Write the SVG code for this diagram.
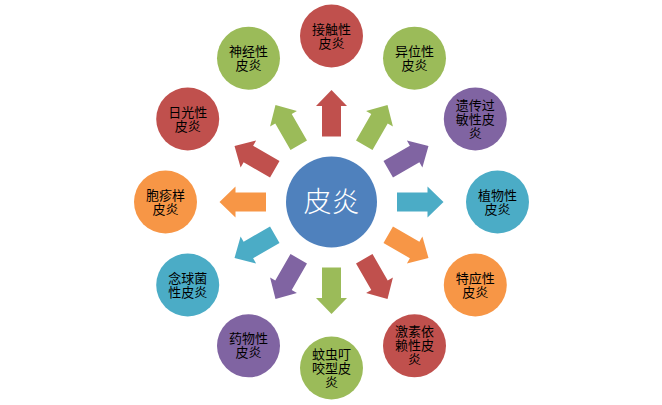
<svg xmlns="http://www.w3.org/2000/svg" xmlns:xlink="http://www.w3.org/1999/xlink" width="662" height="405" viewBox="0 0 662 405">
<style>
.t{font-family:"Liberation Sans","Noto Sans CJK SC",sans-serif;font-size:13px;fill:#000;text-anchor:middle}
.c{font-family:"Noto Sans CJK SC","Liberation Sans",sans-serif;font-size:28px;fill:#fff;text-anchor:middle;font-weight:300}
.red{fill:#C0504D}.green{fill:#9BBB59}.purple{fill:#8064A2}.aqua{fill:#4BACC6}.orange{fill:#F79646}.blue{fill:#4F81BD}
</style>
<defs>
<path id="arr" d="M-9.5,-65.5 L-9.5,-96 L-15.5,-96 L0,-112 L15.5,-96 L9.5,-96 L9.5,-65.5 Z"/>
</defs>
<rect width="662" height="405" fill="#fff"/>
<g id="connectors">
<use xlink:href="#arr" class="red" transform="translate(331.5,202) rotate(0)"/>
<use xlink:href="#arr" class="green" transform="translate(331.5,202) rotate(30)"/>
<use xlink:href="#arr" class="purple" transform="translate(331.5,202) rotate(60)"/>
<use xlink:href="#arr" class="aqua" transform="translate(331.5,202) rotate(90)"/>
<use xlink:href="#arr" class="orange" transform="translate(331.5,202) rotate(120)"/>
<use xlink:href="#arr" class="red" transform="translate(331.5,202) rotate(150)"/>
<use xlink:href="#arr" class="green" transform="translate(331.5,202) rotate(180)"/>
<use xlink:href="#arr" class="purple" transform="translate(331.5,202) rotate(210)"/>
<use xlink:href="#arr" class="aqua" transform="translate(331.5,202) rotate(240)"/>
<use xlink:href="#arr" class="orange" transform="translate(331.5,202) rotate(270)"/>
<use xlink:href="#arr" class="red" transform="translate(331.5,202) rotate(300)"/>
<use xlink:href="#arr" class="green" transform="translate(331.5,202) rotate(330)"/>
</g>
<g id="center">
<circle cx="331.5" cy="202" r="45.5" class="blue"/>
<text x="331.5" y="212" class="c">皮炎</text>
</g>
<g id="n0"><circle cx="331.5" cy="36" r="31.5" class="red"/><text class="t"><tspan x="331.5" y="33.5">接触性</tspan><tspan x="331.5" y="47.5">皮炎</tspan></text></g>
<g id="n1"><circle cx="414.5" cy="58.2" r="31.5" class="green"/><text class="t"><tspan x="414.5" y="55.7">异位性</tspan><tspan x="414.5" y="69.7">皮炎</tspan></text></g>
<g id="n2"><circle cx="475.3" cy="119" r="31.5" class="purple"/><text class="t"><tspan x="475.3" y="109.5">遗传过</tspan><tspan x="475.3" y="123.5">敏性皮</tspan><tspan x="475.3" y="137.5">炎</tspan></text></g>
<g id="n3"><circle cx="497.5" cy="202" r="31.5" class="aqua"/><text class="t"><tspan x="497.5" y="199.5">植物性</tspan><tspan x="497.5" y="213.5">皮炎</tspan></text></g>
<g id="n4"><circle cx="475.3" cy="285" r="31.5" class="orange"/><text class="t"><tspan x="475.3" y="282.5">特应性</tspan><tspan x="475.3" y="296.5">皮炎</tspan></text></g>
<g id="n5"><circle cx="414.5" cy="345.8" r="31.5" class="red"/><text class="t"><tspan x="414.5" y="336.3">激素依</tspan><tspan x="414.5" y="350.3">赖性皮</tspan><tspan x="414.5" y="364.3">炎</tspan></text></g>
<g id="n6"><circle cx="331.5" cy="368" r="31.5" class="green"/><text class="t"><tspan x="331.5" y="358.5">蚊虫叮</tspan><tspan x="331.5" y="372.5">咬型皮</tspan><tspan x="331.5" y="386.5">炎</tspan></text></g>
<g id="n7"><circle cx="248.5" cy="345.8" r="31.5" class="purple"/><text class="t"><tspan x="248.5" y="343.3">药物性</tspan><tspan x="248.5" y="357.3">皮炎</tspan></text></g>
<g id="n8"><circle cx="187.7" cy="285" r="31.5" class="aqua"/><text class="t"><tspan x="187.7" y="282.5">念球菌</tspan><tspan x="187.7" y="296.5">性皮炎</tspan></text></g>
<g id="n9"><circle cx="165.5" cy="202" r="31.5" class="orange"/><text class="t"><tspan x="165.5" y="199.5">胞疹样</tspan><tspan x="165.5" y="213.5">皮炎</tspan></text></g>
<g id="n10"><circle cx="187.7" cy="119" r="31.5" class="red"/><text class="t"><tspan x="187.7" y="116.5">日光性</tspan><tspan x="187.7" y="130.5">皮炎</tspan></text></g>
<g id="n11"><circle cx="248.5" cy="58.2" r="31.5" class="green"/><text class="t"><tspan x="248.5" y="55.7">神经性</tspan><tspan x="248.5" y="69.7">皮炎</tspan></text></g>
</svg>
